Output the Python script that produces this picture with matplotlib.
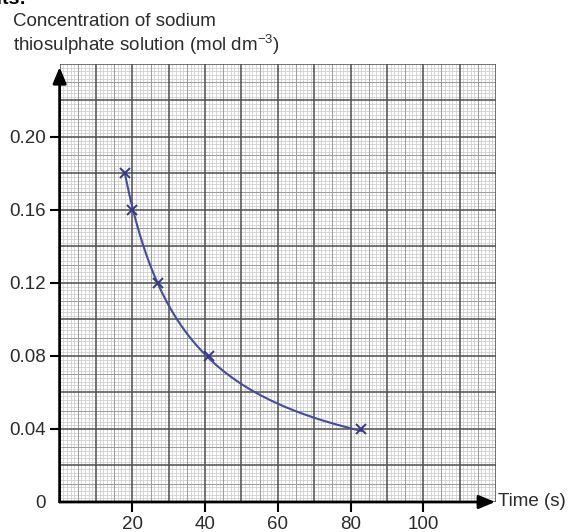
"""Concentration of sodium thiosulphate against time, on graph paper."""
import numpy as np
import matplotlib
matplotlib.use('Agg')
import matplotlib.pyplot as plt

# data
times = np.array([18, 20, 27, 41, 83])            # s
conc = np.array([0.18, 0.16, 0.12, 0.08, 0.04])   # mol dm-3

x_ticks = [20, 40, 60, 80, 100]
y_ticks = [0, 0.04, 0.08, 0.12, 0.16, 0.20]
y_labels = ['0', '0.04', '0.08', '0.12', '0.16', '0.20']

X_MAX = 120
Y_MAX = 0.24
INK = '#2b2b2b'
PEN = '#474c96'

plt.rcParams['font.family'] = ['Liberation Sans', 'DejaVu Sans']
plt.rcParams['mathtext.fontset'] = 'custom'
plt.rcParams['mathtext.rm'] = 'Liberation Sans'
plt.rcParams['mathtext.it'] = 'Liberation Sans:italic'

fig = plt.figure(figsize=(5.71, 5.32), dpi=100)
ax = fig.add_axes([0.1044, 0.0564, 0.7643, 0.8233])
ax.set_xlim(0, X_MAX)
ax.set_ylim(0, Y_MAX)


def paper_style(i):
    """Colour, width, zorder of the i-th line of the graph paper."""
    if i % 10 == 0:
        return '#4d4d4d', 1.1, 3
    if i % 5 == 0:
        return '#9e9e9e', 0.75, 2
    return '#cdcdcd', 0.55, 1


# graph paper: fine lines, half-cm lines, cm lines
for i, x in enumerate(np.arange(0, X_MAX + 1, 1)):
    c, lw, z = paper_style(i)
    ax.axvline(x, color=c, lw=lw, zorder=z)
for i, y in enumerate(np.arange(0, 121, 1) * 0.002):
    c, lw, z = paper_style(i)
    ax.axhline(y, color=c, lw=lw, zorder=z)

for s in ax.spines.values():
    s.set_visible(False)

# axes with arrow heads
arrow = dict(arrowstyle='-|>,head_length=0.65,head_width=0.27', lw=2,
             color='black', mutation_scale=15, shrinkA=0, shrinkB=0)
ax.annotate('', xy=(0, Y_MAX * 0.993), xytext=(0, 0), arrowprops=arrow,
            annotation_clip=False, zorder=5)
ax.annotate('', xy=(X_MAX * 0.998, 0), xytext=(0, 0), arrowprops=arrow,
            annotation_clip=False, zorder=5)

# smooth curve c = k / t fitted to the points
k = np.sum(conc / times) / np.sum(1.0 / times ** 2)
tt = np.linspace(times[0], times[-1], 200)
ax.plot(tt, k / tt, color=PEN, lw=1.5, zorder=6)
ax.plot(times, conc, 'x', color='#363a85', ms=7, mew=1.4, zorder=7)

ax.set_xticks(x_ticks)
ax.set_yticks(y_ticks)
ax.set_yticklabels(y_labels)
ax.tick_params(axis='both', direction='out', length=7, width=1.5,
               colors='black', labelcolor=INK, labelsize=13.5, pad=3)
ax.yaxis.get_major_ticks()[0].tick1line.set_visible(False)

ax.text(1.005, 0, 'Time (s)', transform=ax.transAxes, ha='left',
        va='center', fontsize=13.5, color=INK)

fig.text(0.022, 0.975,
         'Concentration of sodium\nthiosulphate solution (mol dm$^{-3}$)',
         ha='left', va='top', fontsize=13.5, color=INK, linespacing=1.15)
fig.text(0.046, 0.993, 'Results:', ha='right', va='baseline',
         fontsize=14, fontweight='bold', color='black')

fig.savefig('out.png', dpi=100)
